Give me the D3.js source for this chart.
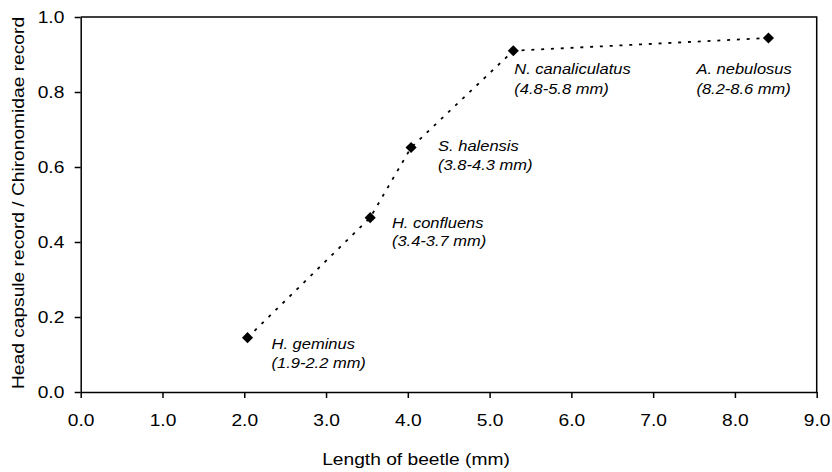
<!DOCTYPE html>
<html><head><meta charset="utf-8">
<script src="https://cdn.jsdelivr.net/npm/d3@7"></script>
<style>html,body{margin:0;padding:0;background:#fff;} svg{display:block;}</style>
</head><body><svg id="chart" width="832" height="472"></svg>
<script>
// ---- data ----
const species = ["H. geminus", "H. confluens", "S. halensis", "N. canaliculatus", "A. nebulosus"];
const sizeRanges = ["(1.9-2.2 mm)", "(3.4-3.7 mm)", "(3.8-4.3 mm)", "(4.8-5.8 mm)", "(8.2-8.6 mm)"];
const beetleLength = [2.04, 3.54, 4.04, 5.29, 8.41];
const recordRatio = [0.145, 0.465, 0.652, 0.91, 0.944];
const xTicks = [0, 1, 2, 3, 4, 5, 6, 7, 8, 9];
const yTicks = [0, 0.2, 0.4, 0.6, 0.8, 1.0];
const xTitle = "Length of beetle (mm)";
const yTitle = "Head capsule record / Chironomidae record";

// ---- layout ----
const labelOffsets = [[24, 11], [21.7, 10], [27, 3.4], [1, 23], [-72, 35.7]];
const labelLineGap = [19, 18.4, 19, 20.3, 20.3];
const SX = 1.2, SXL = 1.1;
const FONT = "'Liberation Sans', Arial, Helvetica, sans-serif";

const svg = d3.select("#chart");
const x = d3.scaleLinear().domain([0, 9]).range([80.7, 816.7]);
const y = d3.scaleLinear().domain([0, 1]).range([392, 17]);

// frame (top & right)
svg.append("path")
  .attr("d", `M${x(0)},${y(1)}H${x(9)}V${y(0)}`)
  .attr("fill", "none").attr("stroke", "#000").attr("stroke-width", 1.5);

// x axis
const gx = svg.append("g").attr("transform", `translate(0,${y(0)})`)
  .call(d3.axisBottom(x).tickValues(xTicks).tickFormat(d3.format(".1f"))
    .tickSize(6).tickSizeOuter(0).tickPadding(17));
gx.select(".domain").attr("stroke-width", 1.5);
gx.selectAll(".tick line").attr("stroke-width", 1.5);
gx.selectAll(".tick text").attr("font-size", 16).attr("font-family", FONT).attr("fill", "#000")
  .attr("transform", `scale(${SX},1)`);

// y axis
const gy = svg.append("g").attr("transform", `translate(${x(0)},0)`)
  .call(d3.axisLeft(y).tickValues(yTicks).tickFormat(d3.format(".1f"))
    .tickSize(6).tickSizeOuter(0).tickPadding(10));
gy.select(".domain").attr("stroke-width", 1.5);
gy.selectAll(".tick line").attr("stroke-width", 1.5);
gy.selectAll(".tick text").attr("font-size", 16).attr("font-family", FONT).attr("fill", "#000")
  .attr("x", -16.4 / SX).attr("transform", `scale(${SX},1)`);

// titles
svg.append("text").text(xTitle)
  .attr("transform", `translate(416,465) scale(${SX},1)`)
  .attr("text-anchor", "middle").attr("font-size", 16).attr("font-family", FONT).attr("fill", "#000");
svg.append("text").text(yTitle)
  .attr("transform", `translate(24,203) rotate(-90) scale(${SX},1)`)
  .attr("text-anchor", "middle").attr("font-size", 16).attr("font-family", FONT).attr("fill", "#000");

// data
const pts = beetleLength.map((v, i) => ({x: v, y: recordRatio[i], name: species[i], range: sizeRanges[i], i}));

svg.append("path").datum(pts)
  .attr("d", d3.line().x(d => x(d.x)).y(d => y(d.y)))
  .attr("fill", "none").attr("stroke", "#000").attr("stroke-width", 1.8)
  .attr("stroke-dasharray", "3,6.8");

svg.selectAll(".mk").data(pts).join("path")
  .attr("class", "mk")
  .attr("d", d3.symbol(d3.symbolSquare, 62))
  .attr("transform", d => `translate(${x(d.x)},${y(d.y)}) rotate(45)`)
  .attr("fill", "#000");

const lab = svg.selectAll(".lab").data(pts).join("text")
  .attr("class", "lab")
  .attr("transform", d => `translate(${x(d.x) + labelOffsets[d.i][0]},${y(d.y) + labelOffsets[d.i][1]}) scale(${SXL},1)`)
  .attr("font-size", 15).attr("font-family", FONT).attr("fill", "#000");
lab.append("tspan").attr("x", 0).attr("font-style", "italic").text(d => d.name);
lab.append("tspan").attr("x", 0).attr("dy", d => labelLineGap[d.i]).attr("font-style", "italic").text(d => d.range);
</script>
</body></html>
